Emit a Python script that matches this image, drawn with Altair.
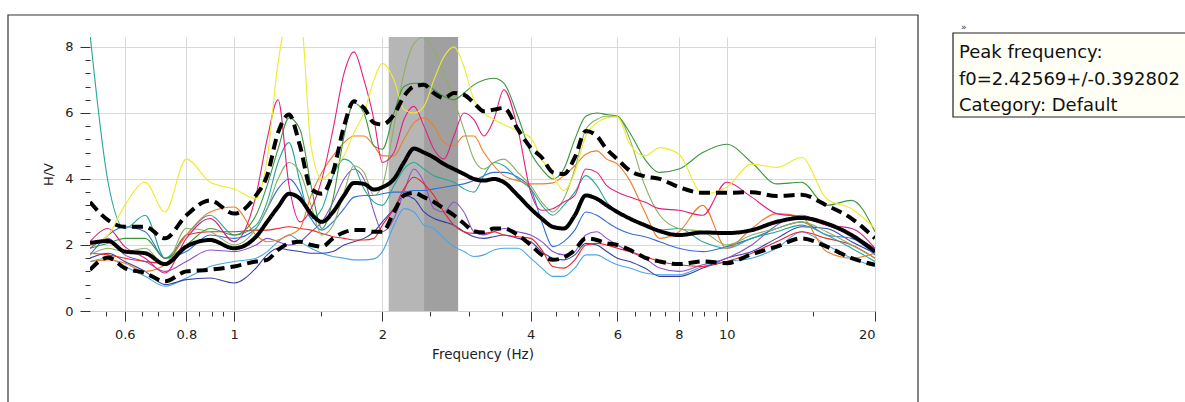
import altair as alt
import pandas as pd

# ---------------- data ----------------
freq = [0.51, 0.555, 0.60, 0.66, 0.724, 0.80, 0.894, 1.0,
        1.108, 1.167, 1.228, 1.293, 1.361, 1.433, 1.508, 1.588, 1.672, 1.751, 1.835, 1.923,
        2.0, 2.112, 2.212, 2.318, 2.429, 2.545, 2.667, 2.794, 2.928, 3.068, 3.215, 3.368, 3.529,
        3.768, 4.0, 4.214, 4.436, 4.671, 4.917, 5.176, 5.449, 5.708, 6.0,
        6.358, 6.82, 7.313, 8.0, 8.94, 10.0, 11.24, 12.63, 14.19, 15.95, 17.93, 20.0]

hv_mean = [2.06, 2.12, 1.8, 1.75, 1.42, 1.95, 2.15, 1.9,
           2.25, 2.7, 3.15, 3.55, 3.4, 2.95, 2.7, 3.0, 3.5, 3.88, 3.85, 3.68,
           3.75, 4.0, 4.5, 4.92, 4.8, 4.65, 4.45, 4.3, 4.15, 4.0, 3.95, 4.0, 3.9,
           3.5, 3.1, 2.8, 2.55, 2.5, 2.9, 3.5, 3.4, 3.2, 3.0,
           2.8, 2.6, 2.42, 2.3, 2.38, 2.36, 2.45, 2.7, 2.82, 2.65, 2.3, 1.8]
hv_upper = [3.3, 2.75, 2.55, 2.55, 2.2, 2.9, 3.35, 2.95,
            3.5, 4.1, 5.4, 5.95, 5.0, 3.7, 3.55, 4.2, 5.6, 6.35, 6.15, 5.7,
            5.65, 5.95, 6.5, 6.8, 6.85, 6.6, 6.45, 6.6, 6.55, 6.3, 6.05, 6.1, 6.15,
            5.5, 4.95, 4.65, 4.2, 4.15, 4.65, 5.45, 5.3, 4.9, 4.6,
            4.25, 4.08, 4.0, 3.75, 3.58, 3.58, 3.6, 3.48, 3.52, 3.2, 2.8, 2.2]
hv_lower = [1.25, 1.62, 1.3, 1.15, 0.9, 1.2, 1.25, 1.35,
            1.5, 1.55, 1.85, 2.05, 2.1, 2.0, 1.95, 2.2, 2.38, 2.45, 2.45, 2.4,
            2.4, 3.0, 3.5, 3.58, 3.45, 3.3, 3.1, 2.9, 2.65, 2.42, 2.38, 2.5, 2.5,
            2.3, 2.0, 1.7, 1.55, 1.62, 1.85, 2.2, 2.15, 2.05, 2.0,
            1.85, 1.62, 1.5, 1.42, 1.5, 1.45, 1.72, 1.95, 2.2, 1.95, 1.6, 1.4]

yellow = [2.0, 2.3, 3.2, 3.9, 3.0, 4.6, 3.9, 3.7,
          3.4, 4.6, 7.5, 9.0, 9.0, 5.0, 4.0, 4.3, 4.7, 5.4, 6.0, 7.0,
          7.5, 7.0, 6.1, 6.0, 6.2, 7.0, 7.7, 8.0, 7.4, 6.4, 6.0, 5.8, 5.65,
          5.45, 5.25, 4.6, 4.1, 3.65, 4.2, 5.3, 5.7, 5.85, 5.88,
          5.05, 4.7, 4.95, 4.75, 3.55, 3.75, 4.45, 4.35, 4.65, 3.4, 3.1, 2.5]
magenta = [2.1, 2.5, 1.95, 1.6, 1.15, 2.2, 2.8, 2.1,
           3.5, 5.2, 6.4, 3.8, 2.7, 3.1, 4.0, 5.5, 7.2, 7.85, 7.0, 5.8,
           4.5, 4.8, 5.8, 6.2, 5.6, 4.9, 4.6, 5.3, 6.0, 5.8, 5.3, 5.8, 6.7,
           5.5, 3.6, 3.05, 3.1, 3.3, 3.5, 4.3, 4.2, 3.8, 3.6,
           3.45, 3.3, 3.1, 3.05, 2.9, 3.9, 3.45, 2.95, 2.85, 2.6, 2.5, 1.9]
green = [1.9, 2.05, 2.2, 2.2, 1.6, 2.0, 2.5, 2.3,
         2.9, 3.8, 4.9, 5.85, 5.5, 3.8, 2.5, 3.4, 5.3, 6.3, 6.0, 5.0,
         4.9, 6.0, 6.8, 6.9, 6.9, 6.7, 6.5, 6.4, 6.6, 6.85, 7.0, 7.05, 6.9,
         5.9, 4.8, 4.3, 4.0, 4.3, 5.2, 5.9, 6.0, 5.95, 5.9,
         5.4, 4.6, 4.2, 4.3, 4.8, 5.05, 4.5, 3.85, 3.9, 3.2, 3.35, 2.4]
olive = [1.7, 1.9, 1.8, 1.9, 1.4, 2.5, 2.4, 2.0,
         2.5, 3.1, 4.0, 4.5, 4.2, 3.2, 2.3, 2.6, 3.6, 4.4, 4.2, 3.5,
         3.8, 5.6, 7.2, 8.1, 8.3, 7.9, 7.2, 6.4, 5.5, 4.6, 4.3, 4.5, 4.6,
         4.2, 3.8, 3.3, 3.0, 3.4, 4.3, 5.5, 5.8, 5.9, 5.9,
         5.2, 3.8, 2.9, 2.5, 2.4, 2.0, 2.3, 2.5, 2.7, 2.4, 2.0, 1.6]
orange = [1.5, 1.55, 1.45, 1.2, 1.4, 2.3, 3.0, 3.15,
          2.3, 2.1, 2.15, 2.3, 2.5, 3.5, 4.2, 4.7, 5.1, 5.3, 5.3, 5.0,
          4.7, 4.7, 5.2, 5.7, 5.85, 5.6, 5.1, 5.0, 5.3, 5.3, 4.8, 4.4, 4.1,
          3.95, 3.85, 3.85, 3.88, 4.1, 4.4, 4.75, 4.85, 4.6, 4.45,
          3.95, 3.0, 2.2, 2.4, 3.2, 1.9, 2.5, 2.95, 2.85, 1.8, 1.6, 1.75]
red = [1.75, 1.7, 1.6, 1.5, 1.45, 2.3, 2.4, 2.4,
       2.45, 2.45, 2.5, 2.55, 2.5, 2.45, 2.35, 2.25, 2.2, 2.15, 2.15, 2.2,
       2.6, 3.1, 3.7, 4.05, 3.85, 3.5, 3.0, 2.6, 2.4, 2.35, 2.35, 2.4, 2.3,
       2.25, 2.2, 1.85, 1.35, 1.3, 1.55, 2.0, 2.05, 2.0, 1.9,
       1.8, 1.65, 1.5, 1.4, 1.35, 1.5, 1.75, 2.1, 2.4, 2.2, 2.0, 1.6]
teal = [8.4, 3.9, 2.5, 2.9, 1.6, 2.3, 2.9, 2.3,
        2.6, 3.3, 4.5, 5.1, 3.9, 2.8, 3.1, 4.1, 4.6, 4.4, 3.7, 3.3,
        3.2, 3.8, 4.3, 4.5, 4.3, 4.1, 4.0, 3.9, 3.7, 3.6, 4.1, 4.5, 4.4,
        4.0, 3.7, 3.2, 2.9, 3.2, 3.6, 4.1, 3.8, 3.3, 3.0,
        2.8, 2.6, 2.45, 2.5, 2.1, 1.9, 2.2, 2.4, 2.6, 2.3, 1.9, 1.5]
blue = [1.7, 2.3, 2.55, 2.4, 1.6, 1.8, 2.3, 2.2,
        2.5, 3.1, 3.7, 4.0, 3.6, 2.8, 2.45, 2.7, 3.1, 3.45, 3.5, 3.5,
        3.55, 3.6, 3.6, 3.65, 3.65, 3.7, 3.75, 3.8, 3.85, 3.95, 4.1, 4.2, 4.2,
        4.05, 3.7, 2.7, 1.95, 2.1, 2.45, 3.0, 2.9, 2.7, 2.5,
        2.35, 2.25, 2.1, 1.9, 1.8, 1.95, 2.2, 2.5, 2.7, 2.3, 2.2, 1.7]
light_blue = [1.5, 1.6, 1.35, 1.05, 0.75, 1.0, 1.35, 1.5,
              1.6, 1.8, 2.1, 2.3, 2.1, 1.9, 1.75, 1.65, 1.6, 1.55, 1.55, 1.58,
              1.8, 2.6, 3.1, 3.0, 2.6, 2.5, 2.2, 1.95, 1.8, 1.65, 1.7, 1.85, 1.9,
              1.9, 1.6, 1.3, 1.05, 1.05, 1.3, 1.7, 1.7, 1.55, 1.4,
              1.3, 1.15, 1.1, 1.1, 1.35, 1.5, 1.6, 1.9, 2.4, 2.0, 1.6, 1.35]
purple = [1.9, 2.2, 1.7, 1.5, 1.2, 1.5, 1.85, 1.8,
          2.0, 2.2, 2.1, 2.0, 2.1, 2.4, 2.7, 3.3, 4.0, 4.3, 4.0, 3.0,
          2.4, 2.8, 3.6, 4.3, 3.9, 3.1, 3.0, 3.3, 3.0, 2.4, 2.3, 2.4, 2.5,
          2.4, 2.3, 2.1, 1.8, 1.7, 1.8, 2.3, 2.4, 2.2, 2.0,
          1.8, 1.6, 1.3, 1.2, 1.4, 1.6, 2.0, 2.6, 2.9, 2.6, 2.3, 1.9]
navy = [1.6, 1.75, 1.5, 1.2, 0.8, 0.95, 1.0, 0.85,
        1.3, 1.7, 1.9, 1.85, 1.8, 1.75, 1.75, 1.8, 2.0, 2.1, 2.2, 2.4,
        2.7, 3.1, 3.5, 3.4, 3.0, 2.8, 2.7, 2.6, 2.4, 2.25, 2.2, 2.25, 2.3,
        2.2, 2.1, 1.8, 1.6, 1.55, 1.7, 2.05, 2.0, 1.8, 1.6,
        1.5, 1.3, 1.05, 1.05, 1.3, 1.6, 1.8, 2.2, 2.55, 2.5, 2.1, 1.75]

series_names = ["light_blue", "navy", "purple", "red", "blue", "teal",
                "orange", "olive", "green", "magenta", "yellow"]
series_values = [light_blue, navy, purple, red, blue, teal,
                 orange, olive, green, magenta, yellow]
series_colors = ["#4aa6e6", "#3a3fa8", "#8c52c8", "#e8262b", "#2f6fd8", "#26a69a",
                 "#f07d28", "#8db060", "#3c963c", "#e0207f", "#ecec2c"]

band_edges = [2.06, 2.43, 2.85]
band_colors = ["#b6b6b6", "#a0a0a0"]

x_major = [0.6, 0.8, 1, 2, 4, 6, 8, 10, 20]
x_ticks = [0.55, 0.6, 0.65, 0.7, 0.75, 0.8, 0.85, 0.9, 0.95, 1, 1.5, 2, 2.5, 3, 3.5,
           4, 4.5, 5, 5.5, 6, 6.5, 7, 7.5, 8, 8.5, 9, 9.5, 10, 15, 20]
y_ticks = [round(0.4 * i, 1) for i in range(21)]

tooltip_lines = ["Peak frequency:", "f0=2.42569+/-0.392802", "Category: Default"]

# ---------------- tables ----------------
rows = []
for name, vals in zip(series_names, series_values):
    for f, v in zip(freq, vals):
        rows.append({"f": f, "v": v, "curve": name})
curves_df = pd.DataFrame(rows)

stat_rows = []
for name, style, vals in [("upper", "dashed", hv_upper), ("lower", "dashed", hv_lower),
                          ("mean", "solid", hv_mean)]:
    for f, v in zip(freq, vals):
        stat_rows.append({"f": f, "v": v, "stat": name, "style": style})
stats_df = pd.DataFrame(stat_rows)

band_df = pd.DataFrame({"f": band_edges[:-1], "f1": band_edges[1:], "part": ["a", "b"]})

FONT = "DejaVu Sans"
xscale = alt.Scale(type="log", domain=[0.51, 20], nice=False)
yscale = alt.Scale(domain=[0, 8.3], nice=False)

x_major_js = "[" + ",".join(str(v) for v in x_major) + "]"
x_test = f"indexof({x_major_js}, datum.value) >= 0"
y_test = "abs(datum.value % 2) < 0.001"

x_axis = alt.Axis(
    values=x_ticks, format="~g",
    labelExpr=f"{x_test} ? datum.label : ''",
    tickSize={"condition": {"test": x_test, "value": 10}, "value": 5},
    gridOpacity={"condition": {"test": x_test, "value": 1}, "value": 0},
    grid=True, gridColor="#d8d8d8",
    tickColor="#333333", domainColor="#cfcfcf",
    labelFont=FONT, labelFontSize=13, labelColor="#222222", labelPadding=7,
    title="Frequency (Hz)", titleFont=FONT, titleFontSize=13.5, titleFontWeight="normal",
    titleColor="#222222", titlePadding=6,
)
y_axis = alt.Axis(
    values=y_ticks, format="~g",
    labelExpr=f"{y_test} ? datum.label : ''",
    tickSize={"condition": {"test": y_test, "value": 10}, "value": 5},
    gridOpacity={"condition": {"test": y_test, "value": 1}, "value": 0},
    grid=True, gridColor="#d8d8d8", domain=False,
    tickColor="#333333",
    labelFont=FONT, labelFontSize=13, labelColor="#222222", labelPadding=7,
    title="H/V", titleFont=FONT, titleFontSize=13, titleFontWeight="normal",
    titleColor="#222222", titlePadding=9,
)

band = alt.Chart(band_df).mark_rect().encode(
    x=alt.X("f:Q", scale=xscale, axis=x_axis),
    x2="f1:Q",
    y=alt.value(0), y2=alt.value(274),
    fill=alt.Fill("part:N", scale=alt.Scale(domain=["a", "b"], range=band_colors), legend=None),
)

lines = alt.Chart(curves_df).mark_line(strokeWidth=1.1, interpolate="monotone", clip=True).encode(
    x=alt.X("f:Q", scale=xscale, axis=x_axis),
    y=alt.Y("v:Q", scale=yscale, axis=y_axis),
    stroke=alt.Stroke("curve:N", scale=alt.Scale(domain=series_names, range=series_colors), legend=None),
    detail="curve:N",
)

stats = alt.Chart(stats_df).mark_line(strokeWidth=4, color="black", interpolate="monotone", clip=True).encode(
    x=alt.X("f:Q", scale=xscale, axis=x_axis),
    y=alt.Y("v:Q", scale=yscale, axis=y_axis),
    strokeDash=alt.StrokeDash("style:N", scale=alt.Scale(domain=["solid", "dashed"], range=[[1, 0], [11, 6]]), legend=None),
    detail="stat:N",
)

one = alt.Data(values=[{"k": 1}])
frame = alt.Chart(one).mark_rect(fillOpacity=0, stroke="#333333", strokeWidth=1.2).encode(
    x=alt.value(-82), x2=alt.value(828), y=alt.value(-22), y2=alt.value(380))
tip_box = alt.Chart(one).mark_rect(fill="#fffff6", stroke="#222222", strokeWidth=1.2).encode(
    x=alt.value(863), x2=alt.value(1110), y=alt.value(-4), y2=alt.value(80))
tip_mark = alt.Chart(one).mark_text(align="left", baseline="alphabetic", fontSize=9, font=FONT, color="#333").encode(
    x=alt.value(871), y=alt.value(-7), text=alt.value("»"))
tip_texts = []
for i, line in enumerate(tooltip_lines):
    tip_texts.append(
        alt.Chart(one).mark_text(align="left", baseline="alphabetic", fontSize=18, font=FONT, color="#111111").encode(
            x=alt.value(869), y=alt.value(21 + 26.5 * i), text=alt.value(line))
    )

chart = alt.layer(band, lines, stats, frame, tip_box, tip_mark, *tip_texts).properties(
    width=785, height=274,
    autosize=alt.AutoSizeParams(type="none"),
    padding={"left": 90, "top": 37, "right": 310, "bottom": 91},
    background="white",
).configure_view(stroke=None)

chart.save("out.html", embed_options={"renderer": "svg", "actions": False})
